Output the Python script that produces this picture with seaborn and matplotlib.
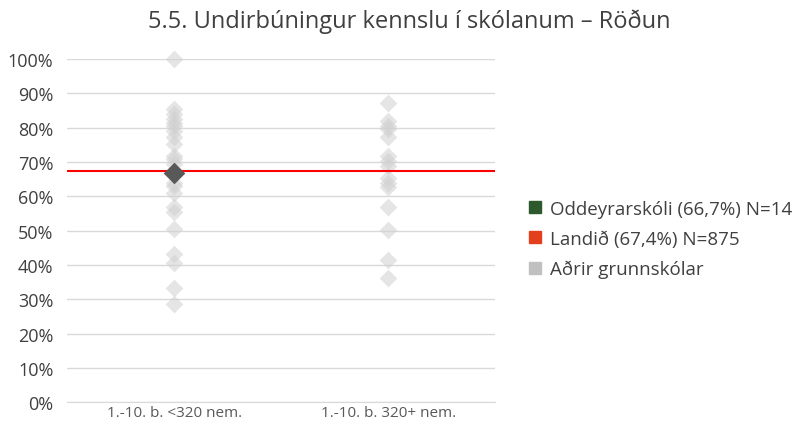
import numpy as np
import pandas as pd
import matplotlib
matplotlib.use('Agg')
import matplotlib.pyplot as plt
import seaborn as sns
from matplotlib.patches import Patch

# data
categories = ['1.-10. b. <320 nem.', '1.-10. b. 320+ nem.']
small_schools = [100, 85.4, 84.0, 82.5, 81.5, 80.6, 79.1, 77.2, 75.2, 71.8, 70.8,
                 69.5, 64.0, 63.1, 61.1, 56.8, 55.3, 50.4, 43.1, 40.7, 33.4, 28.6]
large_schools = [87.2, 82.0, 80.6, 79.6, 77.2, 71.8, 70.3, 68.9, 65.5, 64.0, 62.6,
                 56.9, 50.1, 41.4, 36.2]
school_value = 66.7
school_category = categories[0]
national_value = 67.4
legend_labels = ['Oddeyrarskóli (66,7%) N=14', 'Landið (67,4%) N=875', 'Aðrir grunnskólar']

sns.set_style('white')
plt.rcParams['font.family'] = ['Open Sans', 'DejaVu Sans']

df = pd.DataFrame({
    'group': [categories[0]] * len(small_schools) + [categories[1]] * len(large_schools),
    'value': np.array(small_schools + large_schools) / 100,
})
school_df = pd.DataFrame({'group': [school_category], 'value': [school_value / 100]})

fig = plt.figure(figsize=(8, 4.27), dpi=100)
ax = fig.add_axes([0.084, 0.056, 0.535, 0.803])

ax.set_yticks(np.arange(0, 1.01, 0.1))
ax.yaxis.grid(True, color='#d9d9d9', linewidth=1)
ax.set_axisbelow(True)

sns.stripplot(data=df, x='group', y='value', order=categories, jitter=False,
              marker='D', s=9, color='#d0d0d0', alpha=0.55, linewidth=0,
              ax=ax, clip_on=False, zorder=3)
ax.axhline(national_value / 100, color='#ff0000', linewidth=1.5, zorder=4)
sns.stripplot(data=school_df, x='group', y='value', order=categories, jitter=False,
              marker='D', s=11, color='#595959', linewidth=0,
              ax=ax, clip_on=False, zorder=5)

ax.set_ylim(0, 1)
ax.set_xlim(-0.5, 1.5)
ax.yaxis.set_major_formatter(matplotlib.ticker.FuncFormatter(lambda v, p: f'{v*100:.0f}%'))
ax.set_xlabel('')
ax.set_ylabel('')
for s in ['top', 'right', 'left']:
    ax.spines[s].set_visible(False)
ax.spines['bottom'].set_color('#d9d9d9')
ax.tick_params(axis='y', labelsize=13, labelcolor='#404040', length=0, pad=10)
ax.tick_params(axis='x', labelsize=11, labelcolor='#595959', length=0, pad=2)

fig.suptitle('5.5. Undirbúningur kennslu í skólanum – Röðun', x=0.512, y=0.978,
             fontsize=17, color='#404040')

handles = [Patch(color='#2d5a2d'), Patch(color='#e2401c'), Patch(color='#c0c0c0')]
fig.legend(handles, legend_labels, loc='center left', bbox_to_anchor=(0.64, 0.438),
           frameon=False, fontsize=13.5, handlelength=0.65, handleheight=0.65,
           handletextpad=0.45, labelspacing=0.65, labelcolor='#404040')

fig.savefig('out.png', dpi=100)
